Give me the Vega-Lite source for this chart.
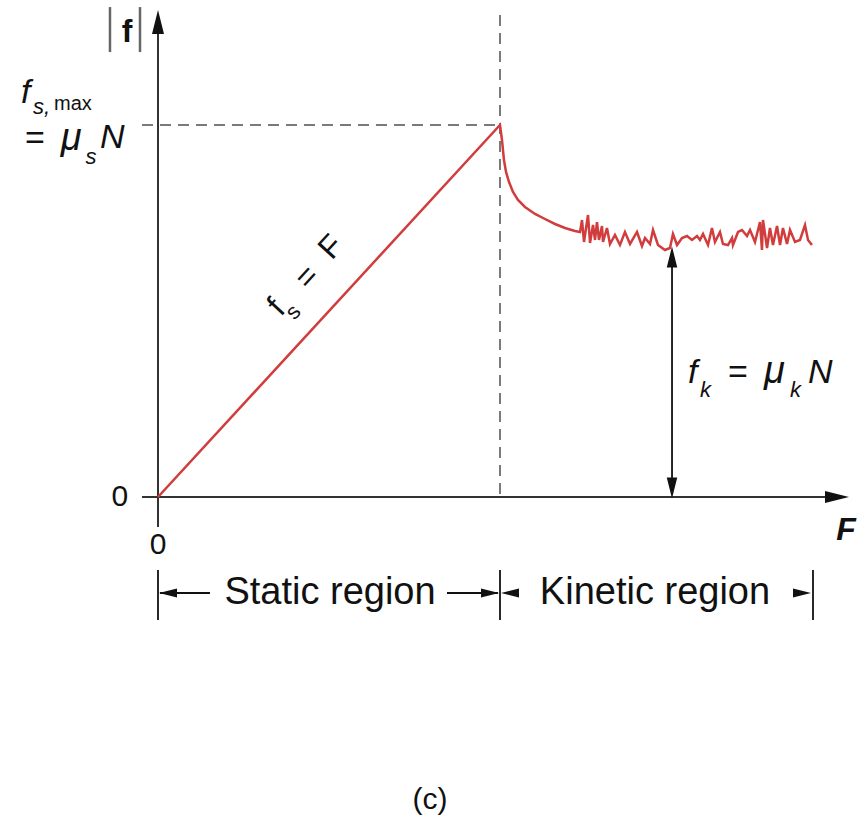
{
  "$schema": "https://vega.github.io/schema/vega-lite/v6.json",
  "width": 865,
  "height": 822,
  "padding": 0,
  "autosize": {"type": "none"},
  "background": "white",
  "config": {"view": {"stroke": null}, "text": {"font": "Liberation Sans"}},
  "datasets": {
    "curve": [
      {"F": 0, "f": 0}, {"F": 5, "f": 10}, {"F": 5.029, "f": 9.597}, {"F": 5.058, "f": 9.059}, {"F": 5.088, "f": 8.737},
      {"F": 5.132, "f": 8.468}, {"F": 5.19, "f": 8.199}, {"F": 5.263, "f": 7.984}, {"F": 5.365, "f": 7.796}, {"F": 5.512, "f": 7.608},
      {"F": 5.658, "f": 7.473}, {"F": 5.804, "f": 7.339}, {"F": 5.95, "f": 7.231}, {"F": 6.096, "f": 7.151}, {"F": 6.17, "f": 7.124},
      {"F": 6.199, "f": 7.446}, {"F": 6.228, "f": 6.855}, {"F": 6.287, "f": 7.581}, {"F": 6.316, "f": 6.828}, {"F": 6.36, "f": 7.312},
      {"F": 6.389, "f": 6.909}, {"F": 6.418, "f": 7.392}, {"F": 6.447, "f": 6.909}, {"F": 6.491, "f": 7.285}, {"F": 6.506, "f": 6.855},
      {"F": 6.564, "f": 7.231}, {"F": 6.608, "f": 6.801}, {"F": 6.681, "f": 7.043}, {"F": 6.754, "f": 6.774}, {"F": 6.827, "f": 7.124},
      {"F": 6.901, "f": 6.801}, {"F": 7.003, "f": 7.124}, {"F": 7.076, "f": 6.747}, {"F": 7.12, "f": 6.962}, {"F": 7.193, "f": 6.801},
      {"F": 7.237, "f": 7.177}, {"F": 7.31, "f": 6.774}, {"F": 7.412, "f": 6.64}, {"F": 7.485, "f": 6.694}, {"F": 7.529, "f": 7.07},
      {"F": 7.588, "f": 6.774}, {"F": 7.661, "f": 6.962}, {"F": 7.734, "f": 7.016}, {"F": 7.807, "f": 6.909}, {"F": 7.88, "f": 7.016},
      {"F": 7.924, "f": 6.909}, {"F": 7.968, "f": 7.07}, {"F": 8.041, "f": 6.774}, {"F": 8.099, "f": 7.231}, {"F": 8.143, "f": 6.855},
      {"F": 8.216, "f": 7.124}, {"F": 8.26, "f": 6.801}, {"F": 8.333, "f": 6.774}, {"F": 8.392, "f": 6.962}, {"F": 8.406, "f": 6.774},
      {"F": 8.48, "f": 7.124}, {"F": 8.538, "f": 7.177}, {"F": 8.611, "f": 7.016}, {"F": 8.655, "f": 7.177}, {"F": 8.728, "f": 6.855},
      {"F": 8.801, "f": 7.392}, {"F": 8.83, "f": 6.64}, {"F": 8.845, "f": 7.446}, {"F": 8.904, "f": 6.694}, {"F": 8.947, "f": 7.231},
      {"F": 8.991, "f": 6.774}, {"F": 9.05, "f": 7.285}, {"F": 9.094, "f": 6.774}, {"F": 9.137, "f": 7.231}, {"F": 9.196, "f": 6.801},
      {"F": 9.24, "f": 7.177}, {"F": 9.313, "f": 6.855}, {"F": 9.386, "f": 6.909}, {"F": 9.459, "f": 7.312}, {"F": 9.503, "f": 6.909},
      {"F": 9.561, "f": 6.774}
    ],
    "dashed": [
      {"F": -0.234, "f": 10, "F2": 5, "f2": 10},
      {"F": 5, "f": 12.96, "F2": 5, "f2": 0}
    ],
    "axes": [
      {"F": 0, "f": -0.806, "F2": 0, "f2": 12.7},
      {"F": -0.234, "f": 0, "F2": 9.9, "f2": 0}
    ],
    "thin": [
      {"F": 7.515, "f": 0.2, "F2": 7.515, "f2": 6.5},
      {"F": 0, "f": -1.962, "F2": 0, "f2": -3.306},
      {"F": 5, "f": -1.962, "F2": 5, "f2": -3.306},
      {"F": 9.576, "f": -1.962, "F2": 9.576, "f2": -3.306},
      {"F": 0.03, "f": -2.581, "F2": 0.76, "f2": -2.581},
      {"F": 4.225, "f": -2.581, "F2": 4.97, "f2": -2.581}
    ],
    "bars": [
      {"F": -0.702, "f": 11.96, "F2": -0.702, "f2": 13.17},
      {"F": -0.263, "f": 11.96, "F2": -0.263, "f2": 13.17}
    ],
    "bigUp": [{"F": 0, "f": 12.769}],
    "bigRight": [{"F": 9.927, "f": 0}],
    "midUp": [{"F": 7.515, "f": 6.452}],
    "midDown": [{"F": 7.515, "f": 0.242}],
    "smallLeft": [{"F": 0.146, "f": -2.581}, {"F": 5.146, "f": -2.581}],
    "smallRight": [{"F": 4.854, "f": -2.581}, {"F": 9.415, "f": -2.581}],
    "italicMain": [
      {"F": -2.003, "f": 10.591, "t": "f"},
      {"F": -0.848, "f": 9.382, "t": "N"},
      {"F": 7.749, "f": 3.065, "t": "f"},
      {"F": 9.503, "f": 3.065, "t": "N"}
    ],
    "mu": [
      {"F": -1.42, "f": 9.33, "t": "μ"},
      {"F": 8.86, "f": 3.065, "t": "μ"}
    ],
    "italicSub": [
      {"F": -1.827, "f": 10.3, "t": "s,"},
      {"F": -1.06, "f": 8.952, "t": "s"},
      {"F": 7.924, "f": 2.688, "t": "k"},
      {"F": 9.24, "f": 2.688, "t": "k"}
    ],
    "smallUpright": [{"F": -1.52, "f": 10.39, "t": "max"}],
    "equals": [
      {"F": -1.944, "f": 9.35, "t": "="},
      {"F": 8.333, "f": 3.065, "t": "="}
    ],
    "zeros": [
      {"F": -0.556, "f": 0, "t": "0"},
      {"F": 0, "f": -1.29, "t": "0"},
      {"F": 3.977, "f": -8.145, "t": "(c)"}
    ],
    "regions": [
      {"F": 2.515, "f": -2.581, "t": "Static region"},
      {"F": 7.266, "f": -2.581, "t": "Kinetic region"}
    ],
    "axisF": [{"F": 10.058, "f": -0.887, "t": "F"}],
    "absf": [{"F": -0.453, "f": 12.231, "t": "f"}],
    "rotBig": [
      {"F": 1.73, "f": 5.1, "t": "f"},
      {"F": 2.178, "f": 5.914, "t": "="},
      {"F": 2.529, "f": 6.72, "t": "F"}
    ],
    "rotSmall": [{"F": 1.974, "f": 4.973, "t": "s"}]
  },
  "encoding": {
    "x": {"field": "F", "type": "quantitative", "scale": {"domain": [-2.3099, 10.3363], "nice": false, "zero": false}, "axis": null},
    "y": {"field": "f", "type": "quantitative", "scale": {"domain": [-8.7366, 13.3602], "nice": false, "zero": false}, "axis": null}
  },
  "layer": [
    {"data": {"name": "dashed"}, "mark": {"type": "rule", "color": "#7a7a7a", "strokeWidth": 2, "strokeDash": [11, 7]},
     "encoding": {"x2": {"field": "F2"}, "y2": {"field": "f2"}}},
    {"data": {"name": "axes"}, "mark": {"type": "rule", "color": "#333333", "strokeWidth": 2},
     "encoding": {"x2": {"field": "F2"}, "y2": {"field": "f2"}}},
    {"data": {"name": "thin"}, "mark": {"type": "rule", "color": "#111111", "strokeWidth": 1.8},
     "encoding": {"x2": {"field": "F2"}, "y2": {"field": "f2"}}},
    {"data": {"name": "bars"}, "mark": {"type": "rule", "color": "#666666", "strokeWidth": 2.5},
     "encoding": {"x2": {"field": "F2"}, "y2": {"field": "f2"}}},
    {"data": {"name": "curve"}, "mark": {"type": "line", "color": "#d13c3c", "strokeWidth": 2.5, "strokeJoin": "miter"}},
    {"data": {"name": "bigUp"}, "mark": {"type": "point", "shape": "M0,-1L0.5,1L-0.5,1Z", "size": 576, "filled": true, "color": "#111111", "opacity": 1, "strokeWidth": 0}},
    {"data": {"name": "bigRight"}, "mark": {"type": "point", "shape": "M1,0L-1,0.5L-1,-0.5Z", "size": 576, "filled": true, "color": "#111111", "opacity": 1, "strokeWidth": 0}},
    {"data": {"name": "midUp"}, "mark": {"type": "point", "shape": "M0,-1L0.5,1L-0.5,1Z", "size": 441, "filled": true, "color": "#111111", "opacity": 1, "strokeWidth": 0}},
    {"data": {"name": "midDown"}, "mark": {"type": "point", "shape": "M0,1L0.5,-1L-0.5,-1Z", "size": 441, "filled": true, "color": "#111111", "opacity": 1, "strokeWidth": 0}},
    {"data": {"name": "smallLeft"}, "mark": {"type": "point", "shape": "M-1,0L1,0.5L1,-0.5Z", "size": 324, "filled": true, "color": "#111111", "opacity": 1, "strokeWidth": 0}},
    {"data": {"name": "smallRight"}, "mark": {"type": "point", "shape": "M1,0L-1,0.5L-1,-0.5Z", "size": 324, "filled": true, "color": "#111111", "opacity": 1, "strokeWidth": 0}},
    {"data": {"name": "italicMain"}, "mark": {"type": "text", "fontSize": 34, "fontStyle": "italic", "align": "left", "baseline": "alphabetic", "color": "#111111"},
     "encoding": {"text": {"field": "t"}}},
    {"data": {"name": "mu"}, "mark": {"type": "text", "fontSize": 38, "fontStyle": "italic", "align": "left", "baseline": "alphabetic", "color": "#111111"},
     "encoding": {"text": {"field": "t"}}},
    {"data": {"name": "italicSub"}, "mark": {"type": "text", "fontSize": 22, "fontStyle": "italic", "align": "left", "baseline": "alphabetic", "color": "#111111"},
     "encoding": {"text": {"field": "t"}}},
    {"data": {"name": "smallUpright"}, "mark": {"type": "text", "fontSize": 20, "align": "left", "baseline": "alphabetic", "color": "#111111"},
     "encoding": {"text": {"field": "t"}}},
    {"data": {"name": "equals"}, "mark": {"type": "text", "fontSize": 34, "align": "left", "baseline": "alphabetic", "color": "#111111"},
     "encoding": {"text": {"field": "t"}}},
    {"data": {"name": "zeros"}, "mark": {"type": "text", "fontSize": 30, "align": "center", "baseline": "middle", "color": "#111111"},
     "encoding": {"text": {"field": "t"}}},
    {"data": {"name": "regions"}, "mark": {"type": "text", "fontSize": 38, "align": "center", "baseline": "middle", "color": "#111111"},
     "encoding": {"text": {"field": "t"}}},
    {"data": {"name": "axisF"}, "mark": {"type": "text", "fontSize": 32, "fontStyle": "italic", "fontWeight": "bold", "align": "center", "baseline": "middle", "color": "#111111"},
     "encoding": {"text": {"field": "t"}}},
    {"data": {"name": "absf"}, "mark": {"type": "text", "fontSize": 32, "fontWeight": "bold", "align": "center", "baseline": "alphabetic", "color": "#111111"},
     "encoding": {"text": {"field": "t"}}},
    {"data": {"name": "rotBig"}, "mark": {"type": "text", "fontSize": 32, "angle": -47.4, "align": "center", "baseline": "middle", "color": "#111111"},
     "encoding": {"text": {"field": "t"}}},
    {"data": {"name": "rotSmall"}, "mark": {"type": "text", "fontSize": 22, "angle": -47.4, "align": "center", "baseline": "middle", "color": "#111111"},
     "encoding": {"text": {"field": "t"}}}
  ]
}
